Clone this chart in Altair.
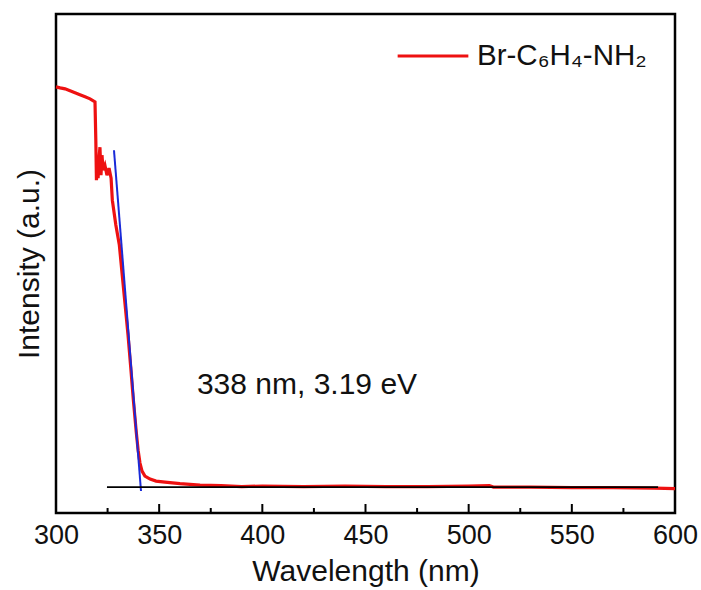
import altair as alt
import pandas as pd

FONT = "Liberation Sans"

# ---- data ----
curve_nm = [300.0, 302.0, 304.4, 306.8, 309.2, 311.6, 314.1, 316.5, 318.9,
            319.3, 319.6, 320.1, 320.4, 320.8, 321.3, 321.8, 322.3, 322.8,
            323.7, 324.7, 325.7, 326.7, 327.3, 329.0, 330.7, 332.1, 333.5,
            334.9, 336.2, 337.5, 338.9, 339.8, 340.7, 341.7, 343.1, 345.6,
            348.5, 352.8, 360.1, 369.8, 380, 390, 400, 420, 440, 460, 480,
            500, 510, 512, 530, 550, 570, 590, 600]
curve_int = [0.854, 0.852, 0.850, 0.846, 0.842, 0.838, 0.834, 0.830, 0.824,
             0.747, 0.667, 0.697, 0.671, 0.707, 0.733, 0.677, 0.717, 0.687,
             0.697, 0.677, 0.691, 0.671, 0.627, 0.577, 0.537, 0.477, 0.417,
             0.357, 0.293, 0.226, 0.162, 0.126, 0.100, 0.084, 0.074, 0.068,
             0.064, 0.062, 0.059, 0.056, 0.055, 0.053, 0.054, 0.053, 0.054,
             0.053, 0.053, 0.054, 0.055, 0.052, 0.052, 0.051, 0.051, 0.050,
             0.049]

tangent_nm = [328.1, 341.2]
tangent_int = [0.727, 0.044]

baseline_nm = [324.7, 591.8]
baseline_int = [0.052, 0.052]

major_ticks = [300, 350, 400, 450, 500, 550, 600]
minor_ticks = [325, 375, 425, 475, 525, 575]

series_name = "Br-C\u2086H\u2084-NH\u2082"
note_text = "338 nm, 3.19 eV"
note_nm = [368.3]
note_int = [0.257]

# ---- tables ----
curve_df = pd.DataFrame({"nm": curve_nm, "I": curve_int, "s": series_name})
tan_df = pd.DataFrame({"nm": tangent_nm, "I": tangent_int})
base_df = pd.DataFrame({"nm": baseline_nm, "I": baseline_int})
maj_df = pd.DataFrame({"t": major_ticks})
min_df = pd.DataFrame({"t": minor_ticks})
note_df = pd.DataFrame({"nm": note_nm, "I": note_int, "txt": [note_text]})

W, H = 619, 499

xscale = alt.Scale(domain=[300, 600], nice=False, zero=False)
yscale = alt.Scale(domain=[0, 1], nice=False, zero=True)

xaxis = alt.Axis(title="Wavelength (nm)", values=major_ticks, ticks=False,
                 domain=False, grid=False, labelFont=FONT, labelFontSize=27,
                 labelColor="#111", labelPadding=9, titleFont=FONT,
                 titleFontSize=30, titleFontWeight="normal", titleColor="#111",
                 titlePadding=8, labelFlush=False)
yaxis = alt.Axis(title="Intensity (a.u.)", labels=False, ticks=False,
                 domain=False, grid=False, titleFont=FONT, titleFontSize=30,
                 titleFontWeight="normal", titleColor="#111", titlePadding=12)

curve = alt.Chart(curve_df).mark_line(strokeWidth=3.2, interpolate="linear").encode(
    x=alt.X("nm:Q", scale=xscale, axis=xaxis),
    y=alt.Y("I:Q", scale=yscale, axis=yaxis),
    color=alt.Color("s:N", scale=alt.Scale(domain=[series_name], range=["#ee1111"]),
                    legend=alt.Legend(title=None, orient="none", legendX=340,
                                      legendY=5, symbolType="stroke",
                                      symbolSize=5000, symbolStrokeWidth=3.2,
                                      labelFont=FONT, labelFontSize=29.5,
                                      labelColor="#111", labelOffset=7,
                                      padding=0, labelLimit=400)),
)

tangent = alt.Chart(tan_df).mark_line(color="#1a2ad8", strokeWidth=2).encode(
    x="nm:Q", y="I:Q")
base = alt.Chart(base_df).mark_line(color="#000000", strokeWidth=1.8).encode(
    x="nm:Q", y="I:Q")

maj = alt.Chart(maj_df).mark_rule(color="black", strokeWidth=2).encode(
    x="t:Q", y=alt.value(H), y2=alt.value(H - 9))
mnr = alt.Chart(min_df).mark_rule(color="black", strokeWidth=2).encode(
    x="t:Q", y=alt.value(H), y2=alt.value(H - 5))

note = alt.Chart(note_df).mark_text(font=FONT, fontSize=30, align="left",
                                    baseline="middle", color="#111").encode(
    x="nm:Q", y="I:Q", text="txt:N")

chart = alt.layer(curve, tangent, base, maj, mnr, note).properties(
    width=W, height=H,
    background="white",
    autosize=alt.AutoSizeParams(type="none"),
    padding={"left": 56, "top": 14, "right": 26, "bottom": 77},
).configure_view(stroke="black", strokeWidth=2.5)

chart.save("out.html", embed_options={"renderer": "svg", "actions": False})
